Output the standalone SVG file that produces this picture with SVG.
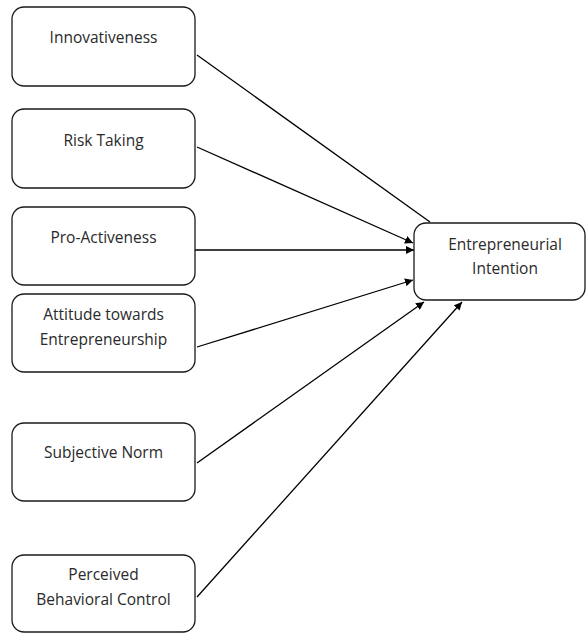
<svg xmlns="http://www.w3.org/2000/svg" width="587" height="635" viewBox="0 0 587 635">
<style>
.box{fill:#fff;stroke:#1a1a1a;stroke-width:1.3}
.t{font-family:"Open Sans","Noto Sans",sans-serif;font-size:15.5px;fill:#2a2a2a;text-anchor:middle}
.c{stroke:#000;stroke-width:1.3;fill:none}
</style>
<defs>
<marker id="ah" viewBox="0 0 10 10" refX="10" refY="5" markerWidth="8" markerHeight="8" markerUnits="userSpaceOnUse" orient="auto">
<path d="M0,0 L10,5 L0,10 z" fill="#000"/>
</marker>
</defs>
<rect width="587" height="635" fill="#fff"/>
<g id="connectors">
<line class="c" x1="197" y1="55" x2="430" y2="222"/>
<line class="c" x1="197" y1="147" x2="413" y2="243" marker-end="url(#ah)"/>
<line class="c" x1="195" y1="250" x2="414" y2="250" marker-end="url(#ah)"/>
<line class="c" x1="197" y1="347" x2="413" y2="280" marker-end="url(#ah)"/>
<line class="c" x1="197" y1="463" x2="424" y2="302" marker-end="url(#ah)"/>
<line class="c" x1="197" y1="597" x2="462" y2="302" marker-end="url(#ah)"/>
</g>
<g id="innovativeness">
<rect class="box" x="12" y="7" width="183" height="79" rx="12"/>
<text class="t" x="103.5" y="43">Innovativeness</text>
</g>
<g id="risk-taking">
<rect class="box" x="12" y="109" width="183" height="79" rx="12"/>
<text class="t" x="103.5" y="146">Risk Taking</text>
</g>
<g id="pro-activeness">
<rect class="box" x="12" y="207" width="183" height="78" rx="12"/>
<text class="t" x="103.5" y="243">Pro-Activeness</text>
</g>
<g id="attitude">
<rect class="box" x="12" y="294" width="183" height="78" rx="12"/>
<text class="t" x="103.5" y="320">Attitude towards</text>
<text class="t" x="103.5" y="345">Entrepreneurship</text>
</g>
<g id="subjective-norm">
<rect class="box" x="12" y="423" width="183" height="78" rx="12"/>
<text class="t" x="103.5" y="458">Subjective Norm</text>
</g>
<g id="perceived-control">
<rect class="box" x="12" y="555" width="183" height="77" rx="12"/>
<text class="t" x="103.5" y="580">Perceived</text>
<text class="t" x="103.5" y="605">Behavioral Control</text>
</g>
<g id="entrepreneurial-intention">
<rect class="box" x="414" y="223" width="171" height="77" rx="12"/>
<text class="t" x="505" y="250">Entrepreneurial</text>
<text class="t" x="505" y="274">Intention</text>
</g>
</svg>
